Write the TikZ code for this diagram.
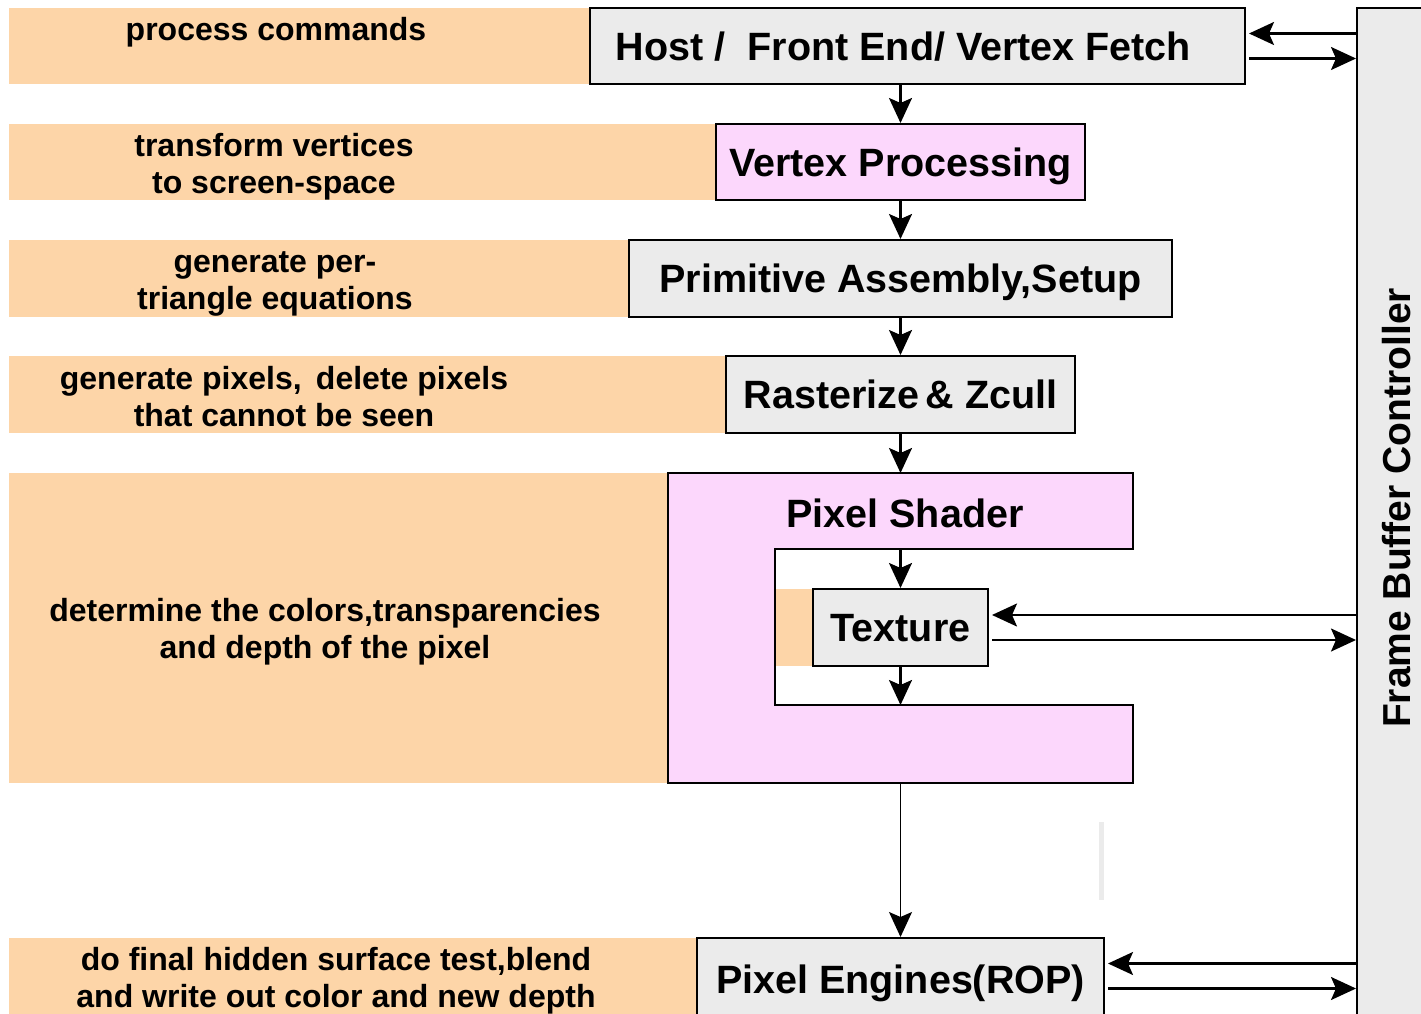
\documentclass[tikz,border=0pt]{standalone}
\usepackage{fontspec}
\setmainfont{Liberation Sans}
\usetikzlibrary{arrows.meta,calc}
\definecolor{peach}{RGB}{253,213,168}
\definecolor{shaderpink}{RGB}{252,215,252}
\definecolor{boxgray}{RGB}{235,235,235}
\begin{document}
\begin{tikzpicture}[x=1pt, y=-1pt, >={Stealth[length=25pt, width=23pt, inset=5pt]},
    stage/.style={draw, line width=2pt, fill=boxgray, inner sep=0pt, text depth=0pt, font=\fontsize{39.5}{44}\selectfont\bfseries},
    note/.style={align=center, font=\fontsize{32}{37}\selectfont\bfseries},
    link/.style={->, line width=2.2pt}]
\clip (0,0) rectangle (1421,1014);
\fill[white] (0,0) rectangle (1421,1014);
% stage description lanes
\foreach \xb/\ya/\yb in {590/8/84, 716/124/200, 629/240/317, 726/356/433, 668/473/783, 697/938/1014}
    \fill[peach] (9,\ya) rectangle (\xb,\yb);
\node[note] (t1) at (276,32) {process commands};
\node[note] (t2) at (274,167) {transform vertices\\to screen-space};
\node[note] (t3) at (275,284) {generate per-\\triangle equations};
\node[note] (t4) at (284,397) {generate pixels,\, delete pixels\\that cannot be seen};
\node[note] (t5) at (325,632) {determine the colors,transparencies\\and depth of the pixel};
\node[note] (t6) at (336,981) {do final hidden surface test,blend\\and write out color and new depth};

% pipeline
\node[stage, minimum width=655pt, minimum height=76pt] (host) at (917.5,46) {Host /\ \ Front End/ Vertex Fetch\kern28pt};
\node[stage, fill=shaderpink, minimum width=369pt, minimum height=76pt] (vp) at (900.5,162) {Vertex Processing};
\node[stage, minimum width=543pt, minimum height=77pt] (pa) at (900.5,278.5) {Primitive Assembly,Setup};
\node[stage, minimum width=349pt, minimum height=77pt] (rast) at (900.5,394.5) {Rasterize\,\& Zcull};
\filldraw[fill=shaderpink, line width=2pt] (668,473) -- (1133,473) -- (1133,549) -- (775,549) -- (775,705)
    -- (1133,705) -- (1133,783) -- (668,783) -- cycle;
\node[font=\fontsize{39.5}{44}\selectfont\bfseries, text depth=0pt] (ps) at (905,513) {Pixel Shader};
\coordinate (psin) at (900.5,473);
\coordinate (pstex) at (900.5,549);
\coordinate (psret) at (900.5,705);
\coordinate (psout) at (900.5,783);
\fill[peach] (776,589) rectangle (813,666);
\node[stage, minimum width=175pt, minimum height=77pt] (tex) at (900.5,627.5) {Texture};
\node[stage, minimum width=407pt, minimum height=82pt] (pe) at (900.5,979) {Pixel Engines(ROP)};
\node[stage, minimum width=80pt, minimum height=1060pt] (fbc) at (1397,538) {};
\node[rotate=90, font=\fontsize{39}{44}\selectfont\bfseries] (fbclabel) at (1397,508) {Frame Buffer Controller};
\draw[black!8, line width=5pt] (1101,822) -- (1101,900);

\draw[link] (host.south -| vp) -- (vp.north);
\draw[link] (vp.south) -- (pa.north);
\draw[link] (pa.south) -- (rast.north);
\draw[link] (rast.south) -- (psin);
\draw[link] (pstex) -- (tex.north);
\draw[link] (tex.south) -- (psret);
\draw[link, line width=1.5pt] (psout) -- (pe.north);

% traffic to and from the frame buffer
\foreach \n/\dy in {host/0, tex/0, pe/-3}
{
    \draw[link] ($(fbc.west |- \n.east)+(0,-12.5+\dy)$) -- ($(\n.east)+(3,-12.5+\dy)$);
    \draw[link] ($(\n.east)+(3,12.5+\dy)$) -- ($(fbc.west |- \n.east)+(0,12.5+\dy)$);
}
\end{tikzpicture}
\end{document}
